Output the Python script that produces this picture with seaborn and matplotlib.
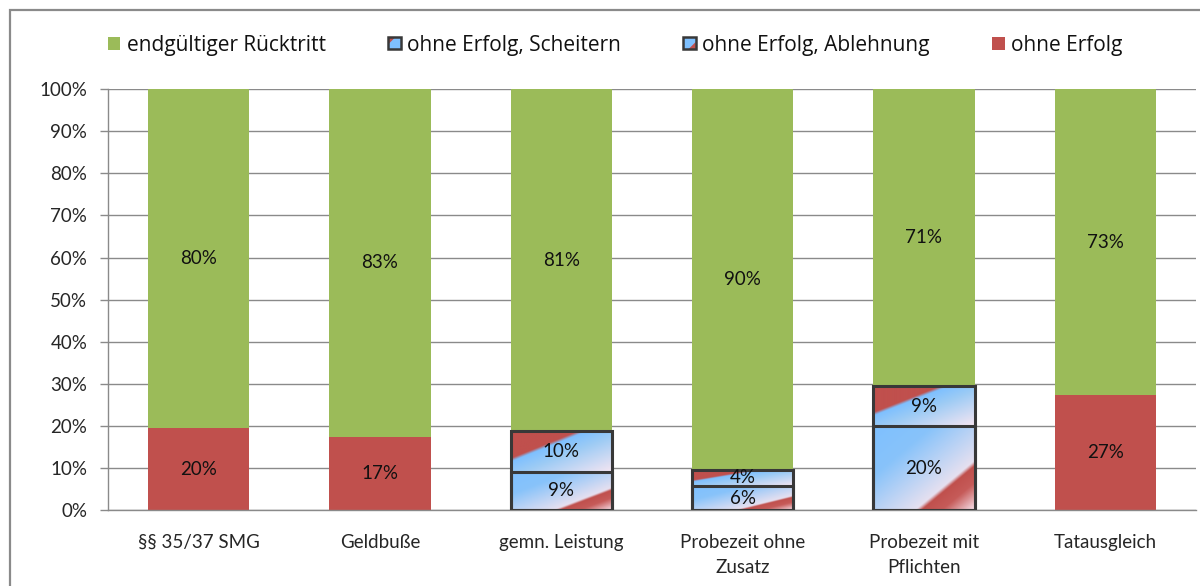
import numpy as np
import matplotlib
matplotlib.use("Agg")
import matplotlib.pyplot as plt
import seaborn as sns
from matplotlib.colors import LinearSegmentedColormap
from matplotlib.legend_handler import HandlerBase
from matplotlib.patches import Rectangle, Polygon, Patch
from matplotlib.ticker import PercentFormatter

# data (percent of cases), stacked bottom -> top
categories = ["§§ 35/37 SMG", "Geldbuße", "gemn. Leistung",
              "Probezeit ohne\nZusatz", "Probezeit mit\nPflichten", "Tatausgleich"]
ohne_erfolg = [19.6, 17.4, 0, 0, 0, 27.3]
ablehnung = [0, 0, 9.2, 5.8, 20.0, 0]
scheitern = [0, 0, 9.6, 3.8, 9.4, 0]
ruecktritt = [80.4, 82.6, 81.2, 90.4, 70.6, 72.7]
series_labels = ["endgültiger Rücktritt", "ohne Erfolg, Scheitern",
                 "ohne Erfolg, Ablehnung", "ohne Erfolg"]

GREEN = "#9BBB59"
RED = "#C0504D"
BLUE = "#7EC0FF"
EDGE = "#383838"
GRID = "#8A8A8A"
BAR_W = 0.56

sns.set_theme(style="white")
plt.rcParams["font.family"] = ["Lato", "DejaVu Sans"]
plt.rcParams["text.color"] = "#111111"

# gradients for the two "ohne Erfolg" sub-series
cmap_sch = LinearSegmentedColormap.from_list("sch", [
    (0.0, RED), (0.33, RED), (0.37, BLUE), (0.55, "#9CCBF5"), (1.0, "#F6E6F2")])
cmap_abl = LinearSegmentedColormap.from_list("abl", [
    (0.0, BLUE), (0.3, "#88C3FA"), (0.71, "#E6E0F0"), (0.74, RED),
    (0.84, "#C65B59"), (1.0, "#F8E2EC")])

u, v = np.meshgrid(np.linspace(0, 1, 200), np.linspace(0, 1, 200))
grad_t = (u + v) / 2

c1 = np.array(ohne_erfolg, dtype=float)
c2 = c1 + np.array(ablehnung)
c3 = c2 + np.array(scheitern)
c4 = c3 + np.array(ruecktritt)

fig = plt.figure(figsize=(12, 5.86), dpi=100)
ax = fig.add_axes([108 / 1200, 1 - 510.3 / 586, (1196 - 108) / 1200, (510.3 - 89) / 586])

# overlapping cumulative bars = stacked bars
sns.barplot(x=categories, y=c4, color=GREEN, saturation=1, width=BAR_W,
            errorbar=None, ax=ax, linewidth=0, zorder=1)
sns.barplot(x=categories, y=c3, color=BLUE, saturation=1, width=BAR_W,
            errorbar=None, ax=ax, linewidth=0, zorder=1)
sns.barplot(x=categories, y=c2, color=BLUE, saturation=1, width=BAR_W,
            errorbar=None, ax=ax, linewidth=0, zorder=1)
sns.barplot(x=categories, y=c1, color=RED, saturation=1, width=BAR_W,
            errorbar=None, ax=ax, linewidth=0, zorder=1)

for cont, lows, highs, cmap in [(ax.containers[1], c2, c3, cmap_sch),
                                (ax.containers[2], c1, c2, cmap_abl)]:
    for patch, lo, hi in zip(cont.patches, lows, highs):
        if hi - lo <= 0:
            patch.set_visible(False)
            continue
        x0 = patch.get_x()
        w = patch.get_width()
        img = ax.imshow(grad_t, cmap=cmap, vmin=0, vmax=1, origin="upper",
                        extent=(x0, x0 + w, lo, hi), aspect="auto",
                        interpolation="bilinear", zorder=2)
        img.set_clip_path(patch)
        patch.set_facecolor("none")
        patch.set_edgecolor(EDGE)
        patch.set_linewidth(2.2)
        patch.set_zorder(3)

# value labels
for lows, highs in [(np.zeros(6), c1), (c1, c2), (c2, c3), (c3, c4)]:
    for i, (lo, hi) in enumerate(zip(lows, highs)):
        if hi - lo > 0:
            ax.text(i, (lo + hi) / 2, f"{round(hi - lo)}%", ha="center",
                    va="center", fontsize=13.5, zorder=5)

ax.set_xlim(-0.5, 5.5)
ax.set_ylim(0, 100)
ax.set_yticks(np.arange(0, 101, 10))
ax.yaxis.set_major_formatter(PercentFormatter(100, decimals=0))
ax.yaxis.grid(True, color=GRID, linewidth=1)
ax.set_axisbelow(True)
ax.set_xlabel("")
ax.set_ylabel("")
ax.set_xticks(np.arange(-0.5, 6), minor=True)
ax.tick_params(axis="x", which="major", length=0, pad=17, labelsize=13.5)
ax.tick_params(axis="x", which="minor", length=6, width=1, color=GRID, direction="out")
ax.tick_params(axis="y", length=6, width=1, color=GRID, pad=9, labelsize=13.5,
               left=True, direction="out")
for lbl in ax.get_xticklabels():
    lbl.set_linespacing(1.55)
    lbl.set_verticalalignment("top")
for side in ["top", "right"]:
    ax.spines[side].set_visible(False)
for side in ["left", "bottom"]:
    ax.spines[side].set_color(GRID)
    ax.spines[side].set_linewidth(1)


class IconHandler(HandlerBase):
    def __init__(self, corner):
        super().__init__()
        self.corner = corner

    def create_artists(self, legend, orig_handle, xdescent, ydescent,
                       width, height, fontsize, trans):
        s = min(width, height)
        x0 = -xdescent + (width - s) / 2
        y0 = -ydescent + (height - s) / 2
        box = Rectangle((x0, y0), s, s, facecolor=BLUE, lw=0, transform=trans)
        if self.corner == "top":
            pts = [[x0, y0 + s], [x0 + 0.6 * s, y0 + s], [x0, y0 + 0.4 * s]]
        else:
            pts = [[x0 + s, y0], [x0 + 0.4 * s, y0], [x0 + s, y0 + 0.6 * s]]
        tri = Polygon(pts, closed=True, facecolor=RED, lw=0, transform=trans)
        frame = Rectangle((x0, y0), s, s, fill=False, edgecolor=EDGE, lw=1.8,
                          transform=trans)
        return [box, tri, frame]


h_rt = Patch(facecolor=GREEN, linewidth=0)
h_sch = Patch(facecolor=BLUE)
h_abl = Patch(facecolor=BLUE)
h_oe = Patch(facecolor=RED, linewidth=0)
fig.legend([h_rt, h_sch, h_abl, h_oe], series_labels,
           handler_map={h_sch: IconHandler("top"), h_abl: IconHandler("bottom")},
           ncol=4, frameon=False, loc="center", bbox_to_anchor=(615 / 1200, 1 - 45 / 586),
           prop={"family": ["Open Sans", "DejaVu Sans"], "size": 15},
           handlelength=0.6, handleheight=0.6, handletextpad=0.3,
           columnspacing=3.0)

# outer chart frame
fig.add_artist(Rectangle((10 / 1200, -0.1), 1.2, 1.1 - 10 / 586, transform=fig.transFigure,
                         fill=False, edgecolor=GRID, linewidth=1.6))

fig.savefig("out.png", dpi=100)
